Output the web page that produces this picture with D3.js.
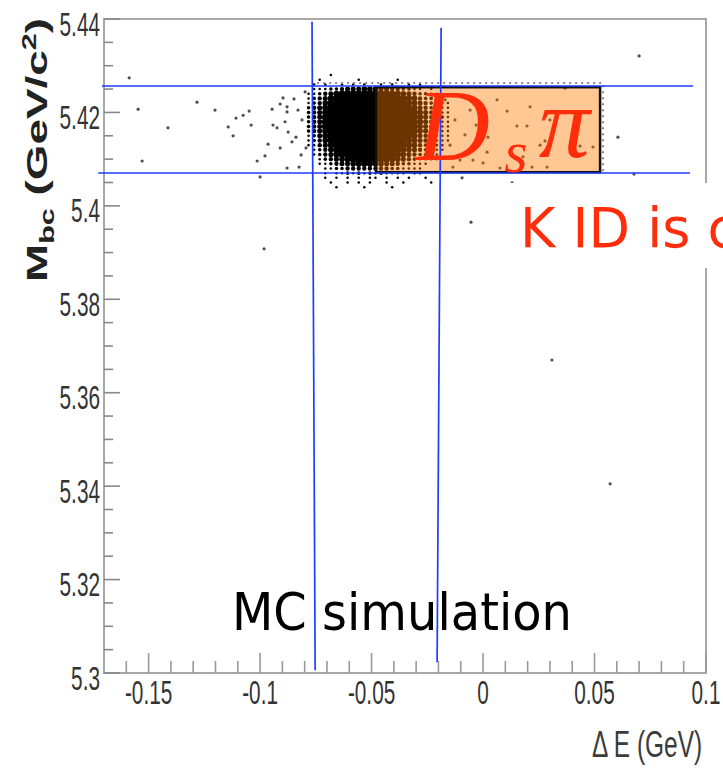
<!DOCTYPE html>
<html>
<head>
<meta charset="utf-8">
<script src="https://cdn.jsdelivr.net/npm/d3@7"></script>
<style>
  body { margin: 0; background: #fff; }
  svg { display: block; }
</style>
</head>
<body>
<svg id="chart" width="723" height="780"></svg>
<script>
// tick values / labels
var yTicks = [5.30, 5.32, 5.34, 5.36, 5.38, 5.40, 5.42, 5.44];
var yTickLabels = ["5.3", "5.32", "5.34", "5.36", "5.38", "5.4", "5.42", "5.44"];
var xTicks = [-0.15, -0.1, -0.05, 0, 0.05, 0.1];
var xTickLabels = ["-0.15", "-0.1", "-0.05", "0", "0.05", "0.1"];

// sparse events: [deltaE, Mbc]
var sparsePoints = [
  [-0.1587, 5.4274], [-0.1547, 5.4207], [-0.1413, 5.4167], [-0.1529, 5.4096],
  [-0.1283, 5.4222], [-0.1202, 5.4205], [-0.1143, 5.4169], [-0.1121, 5.4150],
  [-0.1108, 5.4188], [-0.1076, 5.4194], [-0.1049, 5.4203], [-0.1040, 5.4173],
  [-0.1013, 5.4096], [-0.1000, 5.4062], [-0.0978, 5.4107], [-0.0964, 5.4132],
  [-0.0946, 5.4207], [-0.0942, 5.4173], [-0.0924, 5.4167], [-0.0910, 5.4218],
  [-0.0910, 5.4124], [-0.0897, 5.4231], [-0.0879, 5.4212], [-0.0879, 5.4201],
  [-0.0888, 5.4180], [-0.0874, 5.4158], [-0.0879, 5.4081], [-0.0857, 5.4137],
  [-0.0848, 5.4229], [-0.0839, 5.4147], [-0.0825, 5.4083], [-0.0816, 5.4109],
  [-0.0798, 5.4244], [-0.0794, 5.4124], [-0.0812, 5.4184], [-0.0830, 5.4205],
  [-0.0982, 5.3908], [-0.0054, 5.3965], [0.0309, 5.3670], [0.0570, 5.3405],
  [0.0700, 5.4321], [0.0605, 5.4147], [0.0677, 5.4068], [-0.0094, 5.4060],
  [0.0130, 5.4049],
  [0.0368, 5.4252], [0.0211, 5.4212], [0.0108, 5.4203], [0.0152, 5.4171],
  [0.0197, 5.4171], [0.0256, 5.4130], [0.0278, 5.4139], [0.0435, 5.4128],
  [0.0018, 5.4115], [0.0063, 5.4227], [0.0022, 5.4147], [-0.0045, 5.4098],
  [0.0000, 5.4092], [0.0179, 5.4105], [0.0220, 5.4083], [0.0287, 5.4083],
  [0.0076, 5.4081], [-0.0103, 5.4098], [-0.0135, 5.4083], [0.0300, 5.4184],
  [0.0493, 5.4126], [0.0135, 5.4126],
  [-0.0170, 5.4227], [-0.0126, 5.4184], [-0.0081, 5.4152], [-0.0148, 5.4130],
  [-0.0058, 5.4205], [-0.0031, 5.4173], [-0.0112, 5.4238]
];

// dense signal region, density level 0-9 per cell
// columns start at deltaE -0.0795, step 0.0025 ; rows start at Mbc 5.4285, step -0.001
var coreStartE = -0.0795, coreStepE = 0.0025;
var coreStartM = 5.4285, coreStepM = 0.001;
var coreDensity = [
  "00001000000000000000000000",
  "00100000010000001000000000",
  "01010010101001010010100000",
  "01112234445554433221101000",
  "11234678888888776543221100",
  "12346899999999998765322110",
  "12357999999999999865432111",
  "23468999999999999876432111",
  "23468999999999999987543211",
  "23479999999999999987643221",
  "23479999999999999987643211",
  "23479999999999999987543211",
  "23468999999999999987543211",
  "12468999999999999876432111",
  "12357999999999999865432111",
  "11346899999999998765322110",
  "01235789999999998654321110",
  "01234678999999987543221100",
  "00123456788887765432111100",
  "00112344566655443221110000",
  "00011223333333322111100000",
  "00010112121212111101100000",
  "00010101010110101010010000",
  "00001001010100100100001000",
  "00000100001000010000000000"
];

// hand drawn cut lines (blue), in data units
var cutLines = [
  {e1: -0.0767, m1: 5.4394, e2: -0.0753, m2: 5.3006},
  {e1: -0.0188, m1: 5.4381, e2: -0.0206, m2: 5.3023},
  {e1: -0.1709, m1: 5.42566, e2: 0.0942, m2: 5.42566},
  {e1: -0.1726, m1: 5.40703, e2: 0.0928, m2: 5.40703}
];
var signalBox = {e1: -0.048, e2: 0.0525, m1: 5.4072, m2: 5.4254};
var dottedBox = {e1: -0.0744, e2: 0.0538, m1: 5.4072, m2: 5.4263};

const svg = d3.select("#chart");

const x = d3.scaleLinear().domain([-0.17, 0.1]).range([104, 706]);
const y = d3.scaleLinear().domain([5.30, 5.44]).range([673, 19]);

// soft edge for the dense cluster
svg.append("defs").append("filter").attr("id", "soft")
  .append("feGaussianBlur").attr("stdDeviation", 0.6);

// frame
svg.append("rect")
  .attr("x", x(-0.17)).attr("y", y(5.44))
  .attr("width", x(0.1) - x(-0.17)).attr("height", y(5.30) - y(5.44))
  .attr("fill", "none").attr("stroke", "#a8a8a8").attr("stroke-width", 2);

// y ticks (inside)
var yMinor = d3.range(5.30, 5.4401, 0.005);
svg.append("g").selectAll("line").data(yMinor).join("line")
  .attr("x1", x(-0.17)).attr("x2", function(d, i) { return x(-0.17) + (i % 4 == 0 ? 16 : 9); })
  .attr("y1", function(d) { return y(d); }).attr("y2", function(d) { return y(d); })
  .attr("stroke", "#888").attr("stroke-width", 1.6);

svg.append("g").selectAll("text").data(yTicks).join("text")
  .attr("transform", function(d) { return "translate(100," + (y(d) + 5) + ") scale(0.63,1)"; })
  .attr("text-anchor", "end").attr("dy", "0.35em")
  .style("font-family", "'Liberation Sans', Arial, sans-serif").style("font-size", "33px")
  .attr("fill", "#333")
  .text(function(d, i) { return yTickLabels[i]; });

// x ticks (inside, from bottom)
var xMinor = d3.range(-0.16, 0.1001, 0.01);
svg.append("g").selectAll("line").data(xMinor).join("line")
  .attr("x1", function(d) { return x(d); }).attr("x2", function(d) { return x(d); })
  .attr("y1", y(5.30))
  .attr("y2", function(d) { return y(5.30) - (Math.abs(Math.round(d * 100)) % 5 == 0 ? 20 : 12); })
  .attr("stroke", "#999").attr("stroke-width", 1.6);

svg.append("g").selectAll("text").data(xTicks).join("text")
  .attr("transform", function(d) { return "translate(" + x(d) + ",704) scale(0.63,1)"; })
  .attr("text-anchor", "middle")
  .style("font-family", "'Liberation Sans', Arial, sans-serif").style("font-size", "33px")
  .attr("fill", "#333")
  .text(function(d, i) { return xTickLabels[i]; });

// axis titles
var yTitle = svg.append("text")
  .attr("transform", "translate(47,150) rotate(-90)")
  .attr("text-anchor", "middle")
  .attr("textLength", 264).attr("lengthAdjust", "spacingAndGlyphs")
  .style("font-family", "'Liberation Sans', Arial, sans-serif").style("font-size", "30px")
  .style("font-weight", "bold").attr("fill", "#222");
yTitle.append("tspan").text("M");
yTitle.append("tspan").attr("dy", 7).style("font-size", "20px").text("bc");
yTitle.append("tspan").attr("dy", -7).text(" (GeV/c");
yTitle.append("tspan").attr("dy", -11).style("font-size", "20px").text("2");
yTitle.append("tspan").attr("dy", 11).text(")");

svg.append("text")
  .attr("transform", "translate(592,757) scale(0.68,1)")
  .style("font-family", "'Liberation Sans', Arial, sans-serif").style("font-size", "36px")
  .attr("fill", "#3c3c3c")
  .text("\u0394 E (GeV)");

// dense core, halftone cells
var cells = [];
coreDensity.forEach(function(row, r) {
  for (var c = 0; c < row.length; c++) {
    var lv = +row[c];
    if (lv > 0) cells.push({e: coreStartE + (c + 0.5) * coreStepE, m: coreStartM - (r + 0.5) * coreStepM, lv: lv});
  }
});
svg.append("g").attr("filter", "url(#soft)")
  .selectAll("circle").data(cells).join("circle")
  .attr("cx", function(d) { return x(d.e); })
  .attr("cy", function(d) { return y(d.m); })
  .attr("r", function(d) { return 3.8 * Math.sqrt(d.lv / 9); })
  .attr("fill", "#000");

// sparse events
svg.append("g").selectAll("circle").data(sparsePoints).join("circle")
  .attr("cx", function(d) { return x(d[0]); })
  .attr("cy", function(d) { return y(d[1]); })
  .attr("r", 1.6)
  .attr("fill", "#222").attr("opacity", 0.8);

// dotted outline along the top and right of the box
svg.append("path")
  .attr("d", "M" + x(dottedBox.e1) + "," + y(dottedBox.m2) + "H" + x(dottedBox.e2) + "V" + y(dottedBox.m1))
  .attr("fill", "none").attr("stroke", "#8a8a8a").attr("stroke-width", 2.2)
  .attr("stroke-dasharray", "2,4");

// signal box: translucent orange over the events
svg.append("rect")
  .attr("x", x(signalBox.e1)).attr("y", y(signalBox.m2))
  .attr("width", x(signalBox.e2) - x(signalBox.e1)).attr("height", y(signalBox.m1) - y(signalBox.m2))
  .attr("fill", "rgb(255,121,0)").attr("fill-opacity", 0.42)
  .attr("stroke", "#111").attr("stroke-width", 2.5);

// MC simulation label (under the blue lines)
svg.append("text")
  .attr("x", x(-0.1126)).attr("y", y(5.3092))
  .attr("textLength", 340).attr("lengthAdjust", "spacingAndGlyphs")
  .style("font-family", "'Comic Sans MS', 'DejaVu Sans', sans-serif").style("font-size", "52px")
  .attr("fill", "#000")
  .text("MC simulation");

// blue cut lines
svg.append("g").selectAll("line").data(cutLines).join("line")
  .attr("x1", function(d) { return x(d.e1); }).attr("y1", function(d) { return y(d.m1); })
  .attr("x2", function(d) { return x(d.e2); }).attr("y2", function(d) { return y(d.m2); })
  .attr("stroke", "#1f3dff").attr("stroke-width", 1.7);

// D_s pi
var red = "#ff2d0a";
var ds = svg.append("g")
  .style("font-family", "'Liberation Serif', 'Times New Roman', serif")
  .style("font-style", "italic").attr("fill", red);
ds.append("text").attr("x", x(-0.0300)).attr("y", y(5.4098)).style("font-size", "102px").text("D");
ds.append("text").attr("x", x(0.0095)).attr("y", y(5.4072)).style("font-size", "60px").text("s");
ds.append("text").attr("x", x(0.0250)).attr("y", y(5.4105)).style("font-size", "102px").text("\u03C0");

// white label box covering the frame on the right
svg.append("rect")
  .attr("x", x(0.0054)).attr("y", y(5.4049))
  .attr("width", 723 - x(0.0054)).attr("height", y(5.3867) - y(5.4049))
  .attr("fill", "#fff");
svg.append("text")
  .attr("x", x(0.0166)).attr("y", y(5.3912))
  .attr("textLength", 217).attr("lengthAdjust", "spacingAndGlyphs")
  .style("font-family", "'Comic Sans MS', 'DejaVu Sans', sans-serif").style("font-size", "56px")
  .attr("fill", red)
  .text("K ID is c");
</script>
</body>
</html>
